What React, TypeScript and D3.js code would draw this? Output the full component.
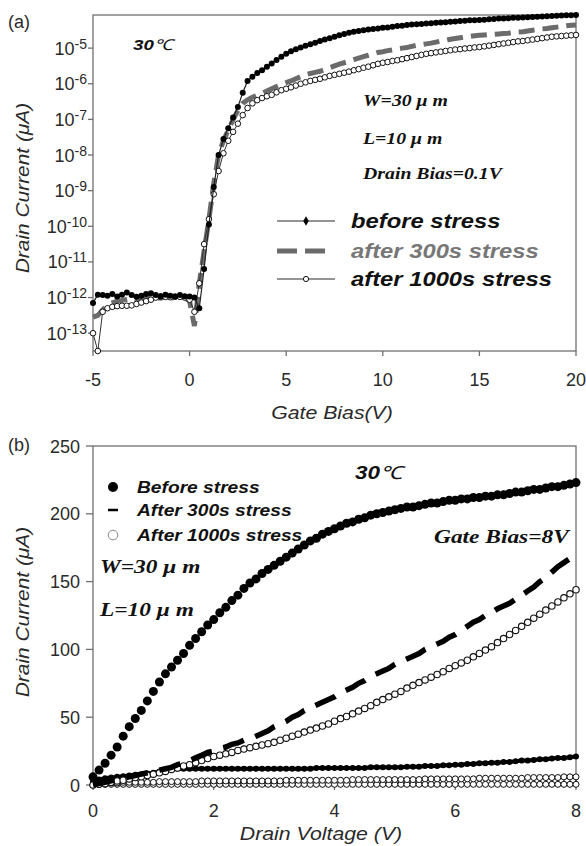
import React from "react";
import * as d3 from "d3";

// (a) transfer curves, gate sweep -5..20 V in 0.25 V steps, log10 of drain current
const gateStart = -5;
const gateStep = 0.25;

const beforeLogI = [
  -12.15, -11.92, -11.93, -11.95, -11.9, -11.97, -11.92, -11.86, -11.93, -11.98, -11.95,
  -11.9, -11.88, -11.93, -11.96, -11.92, -11.95, -11.98, -11.93, -11.96, -11.97,
  -12.0, -12.3, -11.2, -9.95, -8.9, -8.0, -7.55, -7.25, -6.95, -6.65,
  -6.25, -5.92, -5.8, -5.7, -5.62, -5.52, -5.43, -5.33, -5.24, -5.16,
  -5.09, -5.03, -4.98, -4.93, -4.89, -4.85, -4.8, -4.76, -4.72, -4.68,
  -4.64, -4.6, -4.57, -4.54, -4.52, -4.5, -4.48, -4.46, -4.45, -4.43,
  -4.42, -4.4, -4.38, -4.37, -4.35, -4.34, -4.33, -4.32, -4.31, -4.3,
  -4.29, -4.28, -4.27, -4.26, -4.25, -4.24, -4.23, -4.22, -4.215, -4.21,
  -4.2, -4.19, -4.18, -4.17, -4.165, -4.16, -4.15, -4.145, -4.14, -4.13,
  -4.125, -4.12, -4.11, -4.105, -4.1, -4.09, -4.085, -4.08, -4.075, -4.07,
];

const after300LogI = [
  -12.55, -12.5, -12.35, -12.2, -12.15, -12.1, -12.08, -12.05, -12.02, -12.05, -12.0,
  -11.98, -11.96, -12.0, -12.02, -11.98, -12.0, -12.02, -11.98, -12.0, -12.1,
  -12.8, -11.6, -10.7, -9.8, -8.8, -8.0, -7.6, -7.3, -7.0, -6.75,
  -6.55, -6.45, -6.38, -6.32, -6.27, -6.2, -6.14, -6.08, -6.02, -5.97,
  -5.92, -5.86, -5.8, -5.75, -5.71, -5.68, -5.65, -5.6, -5.55, -5.5,
  -5.45, -5.41, -5.37, -5.32, -5.28, -5.24, -5.2, -5.16, -5.12, -5.1,
  -5.07, -5.05, -5.02, -5.0, -4.98, -4.95, -4.92, -4.9, -4.88, -4.86,
  -4.83, -4.8, -4.78, -4.75, -4.73, -4.71, -4.69, -4.67, -4.65, -4.64,
  -4.63, -4.62, -4.61, -4.6, -4.59, -4.58, -4.56, -4.55, -4.54, -4.52,
  -4.5, -4.48, -4.46, -4.45, -4.43, -4.41, -4.39, -4.37, -4.36, -4.35,
];

const after1000LogI = [
  -13.0, -13.5, -12.4, -12.3, -12.26, -12.24, -12.23, -12.23, -12.22, -12.18, -12.14,
  -12.1, -12.06, -12.0, -11.97, -11.98, -11.99, -11.97, -11.98, -12.0, -12.06,
  -12.4, -11.6, -10.5, -9.8, -9.1, -8.45, -7.95, -7.6, -7.35, -7.12,
  -6.88, -6.68, -6.55, -6.46, -6.4, -6.35, -6.31, -6.24, -6.18, -6.14,
  -6.1, -6.05, -6.0, -5.96, -5.92, -5.89, -5.86, -5.82, -5.78, -5.75,
  -5.72, -5.69, -5.66, -5.62, -5.59, -5.55, -5.52, -5.48, -5.44, -5.41,
  -5.39, -5.36, -5.34, -5.31, -5.28, -5.25, -5.22, -5.19, -5.16, -5.14,
  -5.12, -5.1, -5.08, -5.06, -5.04, -5.03, -5.01, -5.0, -4.98, -4.97,
  -4.95, -4.93, -4.91, -4.89, -4.87, -4.85, -4.83, -4.81, -4.8, -4.78,
  -4.76, -4.74, -4.72, -4.7, -4.68, -4.67, -4.66, -4.65, -4.64, -4.63,
];

// (b) output curves, drain sweep 0..8 V in 0.1 V steps, current in uA
const drainStep = 0.1;

const beforeOut = [
  6, 11, 16, 22, 28, 36, 43, 49, 55, 62,
  69, 76, 82, 87, 92, 97, 103, 108, 113, 118,
  122, 127, 131, 136, 140, 145, 149, 152, 156, 159,
  162, 165, 168, 171, 174, 177, 180, 182, 185, 187,
  189, 191, 193, 194, 196, 197, 199, 200, 201, 202,
  203, 204, 205, 205, 206, 207, 208, 208, 209, 210,
  210, 211, 211, 212, 212, 213, 213, 214, 214, 215,
  216, 216, 217, 218, 218, 219, 220, 220, 221, 222,
  223,
];

const after300Out = [
  0, 1, 2, 3, 4, 5, 6, 7, 8, 9,
  10, 11, 12, 13, 15, 16, 18, 20, 22, 24,
  25, 27, 28, 30, 31, 33, 34, 36, 38, 40,
  43, 45, 47, 50, 52, 55, 57, 59, 61, 63,
  65, 68, 70, 72, 75, 77, 80, 82, 84, 86,
  89, 91, 93, 95, 97, 100, 102, 104, 106, 109,
  111, 114, 117, 120, 122, 125, 127, 130, 132, 134,
  137, 140, 143, 146, 150, 153, 157, 161, 164, 167,
  170,
];

const after1000Out = [
  0, 0.5, 1, 2, 3, 3.5, 4.5, 5.5, 6, 7,
  8, 9, 10, 11.5, 12.5, 14, 15, 16.5, 18, 19.5,
  21, 22, 23, 24, 25.5, 26.5, 27.5, 28.5, 29.5, 30.5,
  31.5, 33, 34.5, 36, 37.5, 39, 40.5, 42, 43.5, 45,
  47, 49, 50.5, 52.5, 54.5, 56.5, 58.5, 61, 63, 65,
  67, 69, 71.5, 73.5, 75.5, 77.5, 79.5, 81.5, 83.5, 86,
  88, 90, 92, 94.5, 97, 99.5, 102, 105, 108, 111,
  114, 117, 120, 123, 126, 129, 132, 135, 138, 141,
  144,
];

const lowFilledOut = [
  3, 4, 5, 5.5, 6, 6.5, 7, 7.5, 8, 8.5,
  9, 10, 11, 11.5, 12, 12, 12, 12, 12, 12,
  12, 12, 12, 12, 12, 12, 12, 12, 12, 12,
  12, 12, 12, 12, 12, 12, 12, 12.5, 12.5, 12.5,
  12.5, 12.5, 12.5, 12.5, 12.5, 12.5, 13, 13, 13, 13,
  13, 13, 13.5, 13.5, 13.5, 14, 14, 14, 14.5, 14.5,
  15, 15, 15.5, 15.5, 16, 16, 16.5, 16.5, 17, 17,
  17.5, 18, 18, 18.5, 19, 19, 19.5, 20, 20, 20.5,
  21,
];

const lowOpenA = [
  0, 0.5, 0.5, 0.5, 0.5, 0.5, 0.5, 0.5, 0.5, 0.5,
  0.5, 0.5, 0.5, 0.5, 0.5, 0.5, 0.5, 0.5, 0.5, 0.5,
  0.5, 0.5, 0.5, 0.5, 0.5, 0.5, 0.5, 0.5, 0.5, 0.5,
  0.5, 0.5, 0.5, 0.5, 0.5, 0.5, 0.5, 0.5, 0.5, 0.5,
  0.5, 0.5, 0.5, 0.5, 0.5, 0.5, 0.5, 0.5, 0.5, 0.5,
  0.5, 0.5, 0.5, 0.5, 0.5, 0.5, 0.5, 0.5, 0.5, 0.5,
  0.5, 0.5, 0.5, 0.5, 0.5, 0.5, 0.5, 0.5, 0.5, 0.5,
  0.5, 0.5, 0.5, 0.5, 0.5, 0.5, 0.5, 0.5, 0.5, 0.5,
  0.5,
];

const lowOpenB = [
  0, 0.5, 1, 1.5, 1.5, 2, 2, 2, 2, 2,
  2, 2.5, 2.5, 2.5, 2.5, 2.5, 2.5, 2.5, 3, 3,
  3, 3, 3, 3, 3, 3, 3, 3, 3, 3,
  3, 3, 3.5, 3.5, 3.5, 3.5, 3.5, 3.5, 3.5, 3.5,
  3.5, 3.5, 3.5, 4, 4, 4, 4, 4, 4, 4,
  4, 4, 4, 4, 4, 4.5, 4.5, 4.5, 4.5, 4.5,
  4.5, 4.5, 4.5, 4.5, 5, 5, 5, 5, 5, 5,
  5, 5, 5.5, 5.5, 5.5, 5.5, 5.5, 5.5, 6, 6,
  6,
];

const gateTicks = [-5, 0, 5, 10, 15, 20];
const logTicks = [-13, -12, -11, -10, -9, -8, -7, -6, -5];
const drainTicks = [0, 2, 4, 6, 8];
const currentTicks = [0, 50, 100, 150, 200, 250];

const sans = "'Liberation Sans', Arial, sans-serif";
const serif = "'Liberation Serif', 'Times New Roman', serif";
const axisColor = "#707070";
const textColor = "#2a2a2a";

const Stretch = ({ x, y, sx = 1.2, rot = 0, children, ...rest }) => (
  <text transform={`translate(${x},${y}) rotate(${rot}) scale(${sx},1)`} {...rest}>
    {children}
  </text>
);

export default function App() {
  // scales
  const xa = d3.scaleLinear().domain([-5, 20]).range([93, 576]);
  const ya = d3.scaleLog().domain([10 ** -13.5, 10 ** -4.07]).range([351, 15]);
  const xb = d3.scaleLinear().domain([0, 8]).range([93, 576]);
  const yb = d3.scaleLinear().domain([0, 250]).range([785, 446]);

  const gatePts = (logs) => logs.map((v, i) => [gateStart + i * gateStep, 10 ** v]);
  const drainPts = (vals) => vals.map((v, i) => [i * drainStep, v]);

  const lineA = d3.line().x((d) => xa(d[0])).y((d) => ya(d[1]));
  const lineB = d3.line().x((d) => xb(d[0])).y((d) => yb(d[1]));
  const diamond = d3.symbol().type(d3.symbolDiamond).size(26)();

  const before = gatePts(beforeLogI);
  const a300 = gatePts(after300LogI);
  const a1000 = gatePts(after1000LogI);

  const bBefore = drainPts(beforeOut);
  const b300 = drainPts(after300Out);
  const b1000 = drainPts(after1000Out);
  const bLow = drainPts(lowFilledOut);
  const bA = drainPts(lowOpenA);
  const bB = drainPts(lowOpenB);

  return (
    <svg
      width={586}
      height={846}
      style={{ position: "absolute", left: 0, top: 0, background: "#fff" }}
      fontFamily={sans}
    >
      {/* ---------- panel (a) ---------- */}
      <text x={8} y={28} fontSize={18} fill={textColor}>(a)</text>
      <rect x={93} y={15} width={483} height={336} fill="none" stroke={axisColor} strokeWidth={1.3} />
      {gateTicks.map((t) => (
        <g key={"ga" + t}>
          <line x1={xa(t)} x2={xa(t)} y1={351} y2={356} stroke={axisColor} strokeWidth={1.3} />
          <text x={xa(t)} y={385.5} fontSize={18} textAnchor="middle" fill={textColor}>{t}</text>
        </g>
      ))}
      {logTicks.map((t) => (
        <g key={"la" + t}>
          <line x1={88} x2={93} y1={ya(10 ** t)} y2={ya(10 ** t)} stroke={axisColor} strokeWidth={1.3} />
          <text x={87} y={ya(10 ** t) + 6.5} fontSize={18} textAnchor="end" fill={textColor}>
            10<tspan fontSize={14} dy={-6}>{t}</tspan>
          </text>
        </g>
      ))}
      <Stretch x={332} y={419} sx={1.12} fontSize={19} fontStyle="italic" textAnchor="middle" fill={textColor}>
        Gate Bias(V)
      </Stretch>
      <Stretch x={29} y={188} rot={-90} sx={1.1} fontSize={19} fontStyle="italic" textAnchor="middle" fill={textColor}>
        Drain Current (μA)
      </Stretch>

      {/* data (a) */}
      <path d={lineA(a300)} fill="none" stroke="#6b6b6b" strokeWidth={5} strokeDasharray="16,8" />
      <path d={lineA(a1000)} fill="none" stroke="#333" strokeWidth={1} />
      {a1000.map((d, i) => (
        <circle key={"c" + i} cx={xa(d[0])} cy={ya(d[1])} r={2.8} fill="#fff" stroke="#111" strokeWidth={1} />
      ))}
      <path d={lineA(before)} fill="none" stroke="#222" strokeWidth={1.2} />
      {before.map((d, i) => (
        <circle key={"d" + i} cx={xa(d[0])} cy={ya(d[1])} r={3} fill="#000" />
      ))}

      {/* annotations (a) */}
      <Stretch x={133} y={50} sx={1.25} fontSize={15} fontWeight="bold" fontStyle="italic" fill="#111">
        30<tspan fontFamily={serif} fontWeight="normal">℃</tspan>
      </Stretch>
      <g fontFamily={serif} fontWeight="bold" fontStyle="italic" fontSize={16.5} fill="#111">
        <Stretch x={363} y={106}>W=30 μ m</Stretch>
        <Stretch x={363} y={144}>L=10 μ m</Stretch>
        <Stretch x={363} y={179}>Drain Bias=0.1V</Stretch>
      </g>

      {/* legend (a) */}
      <line x1={277} x2={335} y1={221} y2={221} stroke="#707070" strokeWidth={1.5} />
      <path d={diamond} transform="translate(306,221)" fill="#000" />
      <line x1={277} x2={331} y1={251} y2={251} stroke="#6b6b6b" strokeWidth={5} strokeDasharray="20,8" />
      <line x1={277} x2={335} y1={279} y2={279} stroke="#707070" strokeWidth={1.5} />
      <circle cx={306} cy={279} r={2.6} fill="#fff" stroke="#111" strokeWidth={1} />
      <g fontWeight="bold" fontStyle="italic" fontSize={19.5}>
        <Stretch x={351} y={227.5} sx={1.22} fill="#111">before stress</Stretch>
        <Stretch x={351} y={257.5} sx={1.22} fill="#777">after 300s stress</Stretch>
        <Stretch x={351} y={285.5} sx={1.22} fill="#111">after 1000s stress</Stretch>
      </g>

      {/* ---------- panel (b) ---------- */}
      <text x={8} y={451} fontSize={18} fill={textColor}>(b)</text>
      <rect x={93} y={446} width={483} height={339} fill="none" stroke={axisColor} strokeWidth={1.3} />
      {drainTicks.map((t) => (
        <g key={"db" + t}>
          <line x1={xb(t)} x2={xb(t)} y1={785} y2={790} stroke={axisColor} strokeWidth={1.3} />
          <text x={xb(t)} y={816.5} fontSize={18} textAnchor="middle" fill={textColor}>{t}</text>
        </g>
      ))}
      {currentTicks.map((t) => (
        <g key={"cb" + t}>
          <line x1={86} x2={93} y1={yb(t)} y2={yb(t)} stroke={axisColor} strokeWidth={1.3} />
          <text x={80} y={yb(t) + 6.5} fontSize={18} textAnchor="end" fill={textColor}>{t}</text>
        </g>
      ))}
      <Stretch x={321} y={840} sx={1.12} fontSize={19} fontStyle="italic" textAnchor="middle" fill={textColor}>
        Drain Voltage (V)
      </Stretch>
      <Stretch x={29} y={612} rot={-90} sx={1.1} fontSize={19} fontStyle="italic" textAnchor="middle" fill={textColor}>
        Drain Current (μA)
      </Stretch>

      {/* data (b) */}
      {bA.map((d, i) => (
        <line key={"v" + i} x1={xb(d[0])} x2={xb(d[0])} y1={yb(d[1]) + 3} y2={yb(bB[i][1]) - 3} stroke="#111" strokeWidth={1} />
      ))}
      {bA.map((d, i) => (
        <circle key={"oa" + i} cx={xb(d[0])} cy={yb(d[1])} r={3} fill="#fff" stroke="#111" strokeWidth={1} />
      ))}
      {bB.map((d, i) => (
        <circle key={"ob" + i} cx={xb(d[0])} cy={yb(d[1])} r={3} fill="#fff" stroke="#111" strokeWidth={1} />
      ))}
      <path d={lineB(bLow)} fill="none" stroke="#000" strokeWidth={4} />
      {bLow.map((d, i) => (
        <circle key={"lf" + i} cx={xb(d[0])} cy={yb(d[1])} r={3} fill="#000" />
      ))}
      {b1000.map((d, i) => (
        <circle key={"o1" + i} cx={xb(d[0])} cy={yb(d[1])} r={3.2} fill="#fff" stroke="#111" strokeWidth={1.1} />
      ))}
      <path d={lineB(b300)} fill="none" stroke="#000" strokeWidth={5.5} strokeDasharray="22,12" />
      {bBefore.map((d, i) => (
        <circle key={"bf" + i} cx={xb(d[0])} cy={yb(d[1])} r={4.5} fill="#000" />
      ))}

      {/* annotations (b) */}
      <Stretch x={355} y={478.5} sx={1.25} fontSize={18} fontWeight="bold" fontStyle="italic" fill="#111">
        30<tspan fontFamily={serif} fontWeight="normal">℃</tspan>
      </Stretch>
      <g fontFamily={serif} fontWeight="bold" fontStyle="italic" fontSize={18} fill="#111">
        <Stretch x={100} y={573} sx={1.3}>W=30 μ m</Stretch>
        <Stretch x={100} y={616} sx={1.3}>L=10 μ m</Stretch>
        <Stretch x={434} y={543} sx={1.3}>Gate Bias=8V</Stretch>
      </g>

      {/* legend (b) */}
      <circle cx={113} cy={487} r={5} fill="#000" />
      <line x1={108} x2={118} y1={510} y2={510} stroke="#000" strokeWidth={2.5} />
      <circle cx={113} cy={535} r={4.8} fill="#fff" stroke="#888" strokeWidth={1} />
      <g fontWeight="bold" fontStyle="italic" fontSize={16} fill="#111">
        <Stretch x={137} y={492.5}>Before stress</Stretch>
        <Stretch x={137} y={515.5}>After 300s stress</Stretch>
        <Stretch x={137} y={540.5}>After 1000s stress</Stretch>
      </g>
    </svg>
  );
}
